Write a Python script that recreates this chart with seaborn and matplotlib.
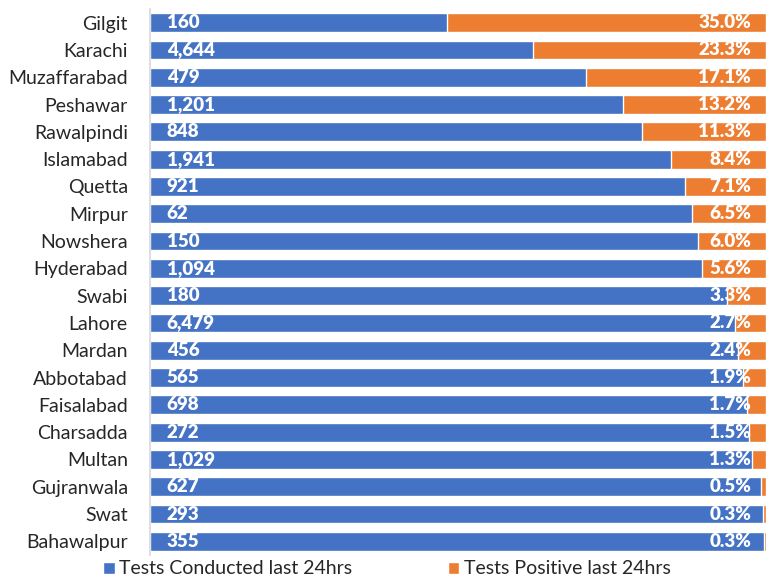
import matplotlib
matplotlib.use("Agg")
import matplotlib.pyplot as plt
from matplotlib.patches import Patch
import pandas as pd
import seaborn as sns

# Data
cities = ['Gilgit', 'Karachi', 'Muzaffarabad', 'Peshawar', 'Rawalpindi', 'Islamabad',
          'Quetta', 'Mirpur', 'Nowshera', 'Hyderabad', 'Swabi', 'Lahore', 'Mardan',
          'Abbotabad', 'Faisalabad', 'Charsadda', 'Multan', 'Gujranwala', 'Swat',
          'Bahawalpur']
tests_conducted = [160, 4644, 479, 1201, 848, 1941, 921, 62, 150, 1094, 180, 6479,
                   456, 565, 698, 272, 1029, 627, 293, 355]
pct_positive = [35.0, 23.3, 17.1, 13.2, 11.3, 8.4, 7.1, 6.5, 6.0, 5.6, 3.3, 2.7,
                2.4, 1.9, 1.7, 1.5, 1.3, 0.5, 0.3, 0.3]
# share of each bar drawn in orange (as it appears in the picture, in % of bar)
orange_share = [51.8, 37.8, 29.2, 23.2, 20.2, 15.4, 13.1, 12.0, 11.1, 10.4, 6.3, 5.0,
                4.5, 3.7, 3.1, 2.7, 2.3, 0.8, 0.5, 0.4]

df = pd.DataFrame({'city': cities, 'tests': tests_conducted,
                   'pct': pct_positive, 'orange': orange_share})
df['total'] = 100.0
df['blue'] = df['total'] - df['orange']

blue = '#4472C4'
orange = '#ED7D31'

sns.set_style('white')
plt.rcParams['font.family'] = ['Lato', 'DejaVu Sans']

fig = plt.figure(figsize=(7.66, 5.8), dpi=100)
ax = fig.add_axes([150 / 766, 25 / 580, 616 / 766, 546 / 580])

# stacked bars: full bar in orange, blue part on top
sns.barplot(data=df, x='total', y='city', color=orange, orient='h', width=0.685,
            saturation=1, ax=ax)
sns.barplot(data=df, x='blue', y='city', color=blue, orient='h', width=0.685,
            saturation=1, ax=ax)

for i, row in df.iterrows():
    ax.text(2.7, i, f"{row['tests']:,}", color='white', fontsize=13.5,
            fontweight='heavy', va='center', ha='left')
    ax.text(97.6, i, f"{row['pct']:.1f}%", color='white', fontsize=13.5,
            fontweight='heavy', va='center', ha='right')

ax.set_xlim(0, 100)
ax.set_ylim(len(cities) - 0.5, -0.5)
ax.set_xlabel('')
ax.set_ylabel('')
ax.set_xticks([])
ax.tick_params(axis='y', length=0, pad=16, labelsize=14)
for s in ['top', 'right', 'bottom']:
    ax.spines[s].set_visible(False)
ax.spines['left'].set_color('#D9D9D9')
ax.spines['left'].set_linewidth(1.2)

handles = [Patch(facecolor=blue, label='Tests Conducted last 24hrs'),
           Patch(facecolor=orange, label='Tests Positive last 24hrs')]
fig.legend(handles=handles, loc='center', bbox_to_anchor=(387 / 766, 11 / 580),
           ncol=2, frameon=False, fontsize=14, handlelength=0.57, handleheight=0.57,
           handletextpad=0.25, columnspacing=4.9, borderpad=0)

fig.savefig('out.png', dpi=100)
